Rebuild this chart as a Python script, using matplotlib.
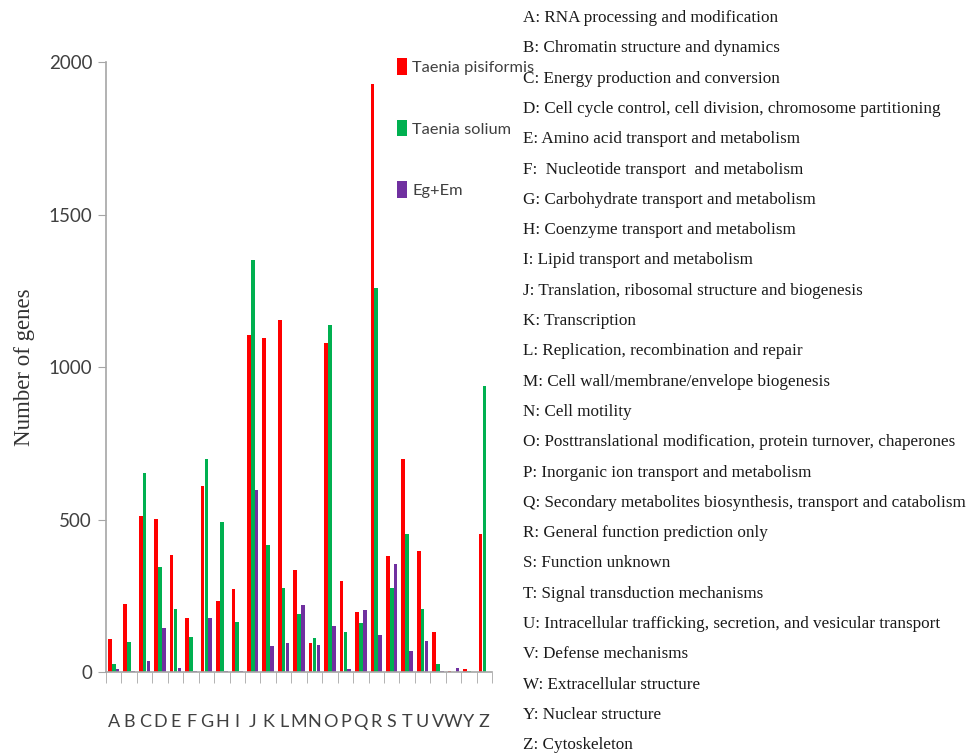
import numpy as np
import matplotlib
matplotlib.use("Agg")
import matplotlib.pyplot as plt
from matplotlib.patches import Patch

# COG functional categories
categories = ["A", "B", "C", "D", "E", "F", "G", "H", "I", "J", "K", "L", "M",
              "N", "O", "P", "Q", "R", "S", "T", "U", "V", "W", "Y", "Z"]

pisiformis = [108, 224, 512, 502, 385, 176, 609, 234, 273, 1104, 1095, 1153, 335,
              94, 1080, 299, 198, 1927, 379, 700, 396, 133, 5, 10, 454]
solium = [28, 100, 653, 346, 208, 116, 699, 491, 163, 1352, 415, 277, 191,
          113, 1138, 131, 160, 1260, 277, 454, 208, 28, 0, 5, 938]
eg_em = [11, 4, 37, 143, 14, 4, 176, 4, 4, 598, 86, 95, 219,
         89, 150, 10, 203, 122, 353, 68, 101, 5, 14, 0, 0]

descriptions = [
    "A: RNA processing and modification",
    "B: Chromatin structure and dynamics",
    "C: Energy production and conversion",
    "D: Cell cycle control, cell division, chromosome partitioning",
    "E: Amino acid transport and metabolism",
    "F:  Nucleotide transport  and metabolism",
    "G: Carbohydrate transport and metabolism",
    "H: Coenzyme transport and metabolism",
    "I: Lipid transport and metabolism",
    "J: Translation, ribosomal structure and biogenesis",
    "K: Transcription",
    "L: Replication, recombination and repair",
    "M: Cell wall/membrane/envelope biogenesis",
    "N: Cell motility",
    "O: Posttranslational modification, protein turnover, chaperones",
    "P: Inorganic ion transport and metabolism",
    "Q: Secondary metabolites biosynthesis, transport and catabolism",
    "R: General function prediction only",
    "S: Function unknown",
    "T: Signal transduction mechanisms",
    "U: Intracellular trafficking, secretion, and vesicular transport",
    "V: Defense mechanisms",
    "W: Extracellular structure",
    "Y: Nuclear structure",
    "Z: Cytoskeleton",
]

series_names = ["Taenia pisiformis", "Taenia solium", "Eg+Em"]
colors = ["#FF0000", "#00B050", "#7030A0"]

sans = ["Lato", "DejaVu Sans"]
serif = ["Liberation Serif", "DejaVu Serif"]
axis_gray = "#A6A6A6"
text_gray = "#404040"

fig = plt.figure(figsize=(9.7, 7.56), dpi=100)
ax = fig.add_axes([0.1093, 0.111, 0.398, 0.807])

x = np.arange(len(categories))
w = 0.25
for i, (vals, col) in enumerate(zip([pisiformis, solium, eg_em], colors)):
    ax.bar(x + (i - 1) * w, vals, width=w * 0.95, color=col, linewidth=0)

ax.set_xlim(-0.5, len(categories) - 0.5)
ax.set_ylim(0, 2000)
ax.set_yticks([0, 500, 1000, 1500, 2000])
ax.set_yticklabels(["0", "500", "1000", "1500", "2000"], family=sans,
                   fontsize=13.5, color=text_gray)
ax.tick_params(axis="y", length=6, color=axis_gray, pad=4)

ax.set_xticks(x)
ax.set_xticklabels(categories, family=sans, fontsize=13, color=text_gray)
ax.tick_params(axis="x", which="major", length=0, pad=30)
ax.set_xticks(np.arange(len(categories) + 1) - 0.5, minor=True)
ax.tick_params(axis="x", which="minor", length=8, color=axis_gray)

for side in ["top", "right"]:
    ax.spines[side].set_visible(False)
for side in ["left", "bottom"]:
    ax.spines[side].set_color(axis_gray)
    ax.spines[side].set_linewidth(1.2)

ax.set_ylabel("Number of genes", family=serif, fontsize=16.5, color="#333333")
ax.yaxis.set_label_coords(-0.185, 0.5)

handles = [Patch(facecolor=c, edgecolor="none") for c in colors]
ax.legend(handles, series_names, loc="upper left", bbox_to_anchor=(0.715, 1.03),
          frameon=False, prop={"family": sans, "size": 11.8},
          handlelength=0.6, handleheight=1.2, handletextpad=0.35,
          labelspacing=2.7, labelcolor=text_gray)

# category descriptions down the right side
top_y = 1 - 18 / 756
step = 30.3 / 756
for k, line in enumerate(descriptions):
    fig.text(0.539, top_y - k * step, line, family=serif, fontsize=12.3,
             color="#1a1a1a", va="center", ha="left")

fig.savefig("out.png", dpi=100)
